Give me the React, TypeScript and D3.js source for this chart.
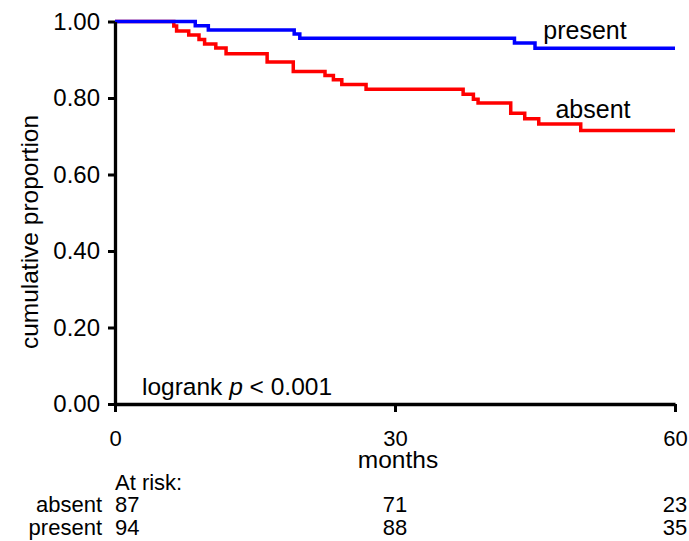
import React, { useRef, useEffect } from "react";
import * as d3 from "d3";

const width = 689;
const height = 541;
const font = "Liberation Sans, Arial, sans-serif";

// Kaplan-Meier steps (months, cumulative proportion)
const presentMonths = [0, 8.6, 10.0, 19.2, 19.8, 42.8, 45.0, 60];
const presentSurv = [1, 0.989, 0.978, 0.967, 0.956, 0.944, 0.93, 0.93];

const absentMonths = [
  0, 6.3, 6.6, 7.9, 9.0, 9.6, 10.8, 11.9, 16.3, 19.1, 22.5, 23.4, 24.3, 26.9,
  37.3, 38.4, 38.9, 42.4, 43.9, 45.4, 49.9, 60,
];
const absentSurv = [
  1, 0.988, 0.975, 0.965, 0.953, 0.941, 0.931, 0.916, 0.894, 0.869, 0.859,
  0.848, 0.835, 0.823, 0.81, 0.797, 0.787, 0.76, 0.746, 0.732, 0.715, 0.715,
];

const xTicks = [0, 30, 60];
const yTicks = [0, 0.2, 0.4, 0.6, 0.8, 1.0];
const riskAbsent = [87, 71, 23];
const riskPresent = [94, 88, 35];

const x = d3.scaleLinear().domain([0, 60]).range([115, 675]);
const y = d3.scaleLinear().domain([0, 1]).range([404, 21.5]);

const line = d3
  .line<[number, number]>()
  .x((d) => x(d[0]))
  .y((d) => y(d[1]))
  .curve(d3.curveStepAfter);

const App = () => {
  const xAxisRef = useRef<SVGGElement>(null);
  const yAxisRef = useRef<SVGGElement>(null);

  useEffect(() => {
    const xa = d3
      .axisBottom(x)
      .tickValues(xTicks)
      .tickSize(8)
      .tickSizeOuter(0)
      .tickPadding(18)
      .tickFormat(d3.format("d"));
    const ya = d3
      .axisLeft(y)
      .tickValues(yTicks)
      .tickSize(7)
      .tickSizeOuter(0)
      .tickPadding(8)
      .tickFormat(d3.format(".2f"));
    const gx = d3.select(xAxisRef.current!).call(xa);
    const gy = d3.select(yAxisRef.current!).call(ya);
    [gx, gy].forEach((g) => {
      g.select(".domain").attr("stroke", "#000").attr("stroke-width", 3.3);
      g.selectAll(".tick line").attr("stroke", "#000").attr("stroke-width", 3);
      g.selectAll(".tick text").attr("fill", "#000").style("font-family", font);
    });
    gx.selectAll(".tick text").style("font-size", "22px");
    gy.selectAll(".tick text").style("font-size", "24px");
  }, []);

  const absentPts = absentMonths.map((m, i) => [m, absentSurv[i]] as [number, number]);
  const presentPts = presentMonths.map((m, i) => [m, presentSurv[i]] as [number, number]);

  return (
    <svg
      width={width}
      height={height}
      style={{ position: "absolute", left: 0, top: 0, background: "#fff" }}
      fontFamily={font}
    >
      <path d={line(absentPts) ?? ""} fill="none" stroke="#ff0000" strokeWidth={3.5} />
      <path d={line(presentPts) ?? ""} fill="none" stroke="#0000ff" strokeWidth={3.5} />
      <g ref={xAxisRef} transform={`translate(0, ${y(0)})`} />
      <g ref={yAxisRef} transform={`translate(${x(0)}, 0)`} />

      <text x={585} y={39} fontSize={25} textAnchor="middle">present</text>
      <text x={593} y={118} fontSize={25} textAnchor="middle">absent</text>
      <text x={142} y={395} fontSize={24.5}>
        logrank <tspan fontStyle="italic">p</tspan> &lt; 0.001
      </text>
      <text
        transform={`translate(38, 232) rotate(-90)`}
        fontSize={24.5}
        textAnchor="middle"
      >
        cumulative proportion
      </text>
      <text x={x(30) + 3} y={468} fontSize={24.5} textAnchor="middle">months</text>

      <text x={x(0)} y={490} fontSize={22}>At risk:</text>
      <text x={102} y={512} fontSize={22} textAnchor="end">absent</text>
      <text x={102} y={535} fontSize={22} textAnchor="end">present</text>
      {xTicks.map((t, i) => (
        <g key={t}>
          <text x={x(t)} y={512} fontSize={22} textAnchor={i === 0 ? "start" : "middle"}>
            {riskAbsent[i]}
          </text>
          <text x={x(t)} y={535} fontSize={22} textAnchor={i === 0 ? "start" : "middle"}>
            {riskPresent[i]}
          </text>
        </g>
      ))}
    </svg>
  );
};

export default App;
